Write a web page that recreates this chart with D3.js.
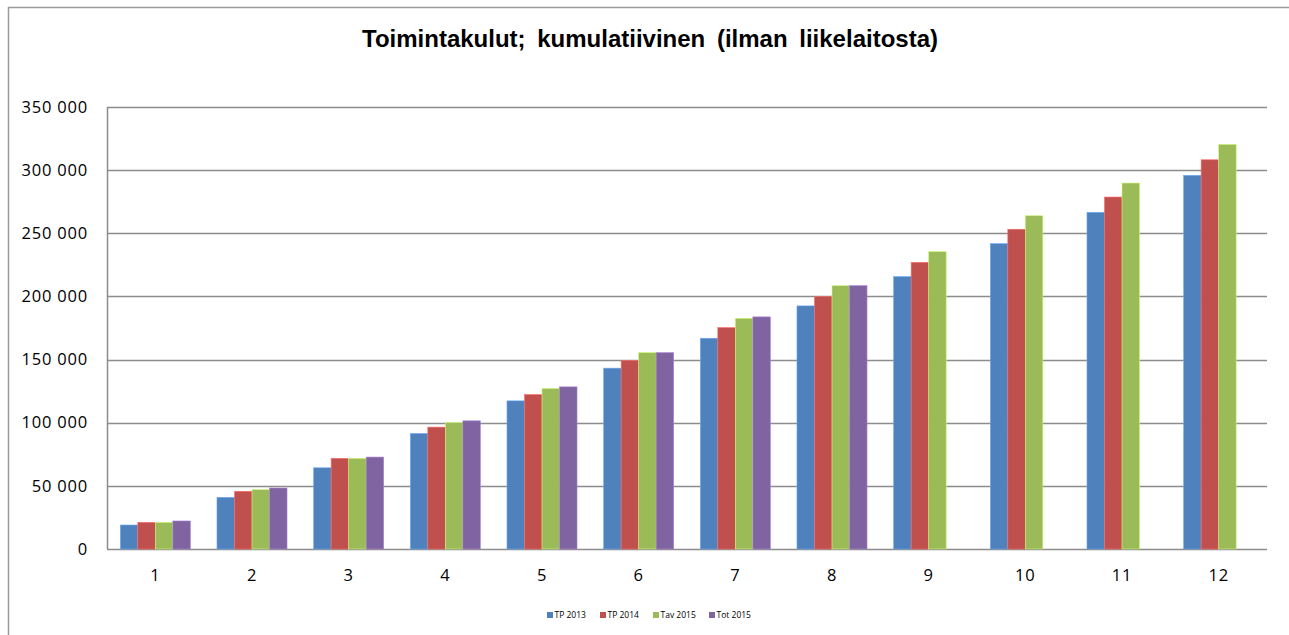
<!DOCTYPE html>
<html>
<head>
<meta charset="utf-8">
<script src="https://cdn.jsdelivr.net/npm/d3@7"></script>
<style>
  body { margin: 0; background: #fff; }
  svg { display: block; }
</style>
</head>
<body>
<div id="container"></div>
<script>
const months = ["1", "2", "3", "4", "5", "6", "7", "8", "9", "10", "11", "12"];
const seriesNames = ["TP 2013", "TP 2014", "Tav 2015", "Tot 2015"];
const seriesColors = ["#4f81bd", "#c0504d", "#9bbb59", "#8064a2"];

const tp2013 = [19000, 40900, 64300, 91500, 117300, 143200, 166900, 192500, 215700, 241800, 266600, 295900];
const tp2014 = [21100, 45700, 71800, 96500, 122300, 149200, 175300, 199800, 227000, 253200, 278700, 308200];
const tav2015 = [21100, 47000, 71800, 100200, 127100, 155500, 182700, 208500, 235500, 263900, 289800, 320400];
const tot2015 = [22200, 48300, 72800, 101500, 128400, 155500, 183800, 208500, null, null, null, null];

const yTicks = [0, 50000, 100000, 150000, 200000, 250000, 300000, 350000];

function draw() {
    const width = 1289;
    const height = 635;

    const plotLeft = 107;
    const plotRight = 1267;
    const plotTop = 107;
    const plotBottom = 549;

    const svg = d3.select('#container')
        .append('svg')
        .attr('width', width)
        .attr('height', height);

    // outer chart border
    svg.append('rect')
        .attr('x', 8.5)
        .attr('y', 7.5)
        .attr('width', 1300)
        .attr('height', 700)
        .attr('fill', 'none')
        .attr('stroke', '#9a9a9a')
        .attr('stroke-width', 1.5);

    svg.append('text')
        .text('Toimintakulut; kumulatiivinen (ilman liikelaitosta)')
        .attr('x', 650)
        .attr('y', 47)
        .attr('text-anchor', 'middle')
        .style('font-family', '"Liberation Sans", Arial, sans-serif')
        .style('font-weight', 'bold')
        .style('font-size', '24px')
        .style('word-spacing', '5px')
        .style('fill', '#000');

    const x = d3.scaleBand()
        .domain(months)
        .range([plotLeft, plotRight])
        .paddingInner(0)
        .paddingOuter(0);

    const x1 = d3.scaleBand()
        .domain(seriesNames)
        .range([0, x.bandwidth()])
        .paddingOuter(0.76)
        .paddingInner(0);

    const y = d3.scaleLinear()
        .domain([0, 350000])
        .range([plotBottom, plotTop]);

    // gridlines
    svg.append('g')
        .selectAll('line')
        .data(yTicks)
        .join('line')
        .attr('x1', plotLeft)
        .attr('x2', plotRight)
        .attr('y1', d => Math.round(y(d)) + 0.5)
        .attr('y2', d => Math.round(y(d)) + 0.5)
        .attr('stroke', '#8c8c8c')
        .attr('stroke-width', 1.5);

    // vertical axis line
    svg.append('line')
        .attr('x1', plotLeft + 0.5)
        .attr('x2', plotLeft + 0.5)
        .attr('y1', plotTop)
        .attr('y2', plotBottom)
        .attr('stroke', '#8c8c8c')
        .attr('stroke-width', 1.5);

    const yAxis = svg.append('g')
        .attr('transform', `translate(${plotLeft}, 0)`)
        .call(d3.axisLeft(y)
            .tickValues(yTicks)
            .tickSize(0)
            .tickPadding(19)
            .tickFormat(d => d3.format(',')(d).replace(/,/g, ' ')));
    yAxis.select('.domain').remove();
    yAxis.selectAll('text')
        .style('font-family', '"Open Sans", sans-serif')
        .style('font-size', '16.5px')
        .style('letter-spacing', '0.8px')
        .style('fill', '#000');

    const xAxis = svg.append('g')
        .attr('transform', `translate(0, ${plotBottom})`)
        .call(d3.axisBottom(x).tickSize(0).tickPadding(20));
    xAxis.select('.domain').remove();
    xAxis.selectAll('text')
        .style('font-family', '"Open Sans", sans-serif')
        .style('font-size', '16.5px')
        .style('letter-spacing', '0.8px')
        .style('fill', '#000');

    const table = months.map((m, i) => ({
        month: m,
        values: [tp2013[i], tp2014[i], tav2015[i], tot2015[i]]
    }));

    const groups = svg.append('g')
        .selectAll('g')
        .data(table)
        .join('g')
        .attr('transform', d => `translate(${x(d.month)}, 0)`);

    groups.selectAll('rect')
        .data(d => d.values.map((v, j) => ({ name: seriesNames[j], value: v, color: seriesColors[j] }))
            .filter(e => e.value !== null))
        .join('rect')
        .attr('x', d => x1(d.name))
        .attr('y', d => y(d.value))
        .attr('width', x1.bandwidth())
        .attr('height', d => plotBottom - y(d.value))
        .attr('fill', d => d.color)
        .attr('stroke', d => d3.color(d.color).brighter(0.8))
        .attr('stroke-width', 0.6);

    // legend
    const legendX = [547, 600, 653, 709];
    const legend = svg.append('g')
        .selectAll('g')
        .data(seriesNames)
        .join('g')
        .attr('transform', (d, i) => `translate(${legendX[i]}, 612)`);

    legend.append('rect')
        .attr('x', 0)
        .attr('y', 0)
        .attr('width', 6)
        .attr('height', 6)
        .attr('fill', (d, i) => seriesColors[i]);

    legend.append('text')
        .text(d => d)
        .attr('x', 7.5)
        .attr('y', 5.5)
        .style('font-family', '"Open Sans", sans-serif')
        .style('font-size', '8.5px')
        .style('fill', '#000');
}

draw();
</script>
</body>
</html>
